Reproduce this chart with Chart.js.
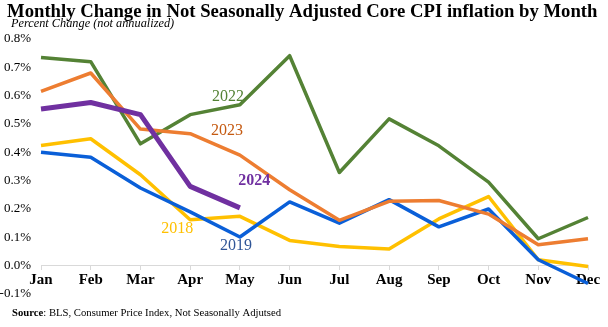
<!DOCTYPE html>
<html>
<head>
<meta charset="utf-8">
<script src="https://cdn.jsdelivr.net/npm/chart.js@4/dist/chart.umd.min.js"></script>
<style>
  html, body { margin: 0; padding: 0; background: #fff; }
  #wrap { width: 608px; height: 327px; position: relative; }
</style>
</head>
<body>
<div id="wrap"><canvas id="cpiChart"></canvas></div>
<script>
// Datos (variación mensual, %)
const months = ['Jan', 'Feb', 'Mar', 'Apr', 'May', 'Jun', 'Jul', 'Aug', 'Sep', 'Oct', 'Nov', 'Dec'];
const y2018 = [0.424, 0.448, 0.321, 0.162, 0.174, 0.089, 0.068, 0.059, 0.165, 0.244, 0.021, -0.003];
const y2019 = [0.400, 0.383, 0.274, 0.190, 0.101, 0.225, 0.150, 0.233, 0.137, 0.200, 0.021, -0.063];
const y2022 = [0.735, 0.720, 0.430, 0.533, 0.568, 0.741, 0.329, 0.518, 0.423, 0.295, 0.095, 0.170];
const y2023 = [0.615, 0.680, 0.482, 0.466, 0.390, 0.268, 0.160, 0.227, 0.230, 0.182, 0.074, 0.095];
const y2024 = [0.553, 0.576, 0.533, 0.280, 0.204];
const yTicks = [-0.1, 0.0, 0.1, 0.2, 0.3, 0.4, 0.5, 0.6, 0.7, 0.8];

const serif = '"Liberation Serif", "Times New Roman", serif';

// Etiquetas de cada año dentro del gráfico (posición en unidades de datos)
const yearLabels = [
  { text: '2022', x: 3.76, y: 0.596, color: '#548235', bold: false },
  { text: '2023', x: 3.74, y: 0.476, color: '#C55A11', bold: false },
  { text: '2024', x: 4.29, y: 0.300, color: '#7030A0', bold: true },
  { text: '2018', x: 2.74, y: 0.130, color: '#FFC000', bold: false },
  { text: '2019', x: 3.92, y: 0.070, color: '#2F5597', bold: false },
];

const textPlugin = {
  id: 'textPlugin',
  afterDraw(chart) {
    const c = chart.ctx;
    const xs = chart.scales.x, ys = chart.scales.y;
    c.save();
    c.fillStyle = '#000';
    c.textBaseline = 'alphabetic';
    c.textAlign = 'left';
    c.font = 'bold 18.7px ' + serif;
    c.fillText('Monthly Change in Not Seasonally Adjusted Core CPI inflation by Month', 7, 17);
    c.font = 'italic 12.3px ' + serif;
    c.fillText('Percent Change (not annualized)', 11, 27);

    // Fuente
    c.font = 'bold 10.7px ' + serif;
    c.fillText('Source', 12, 316);
    let w = c.measureText('Source').width;
    c.font = '10.7px ' + serif;
    c.fillText(': BLS, Consumer Price Index, Not Seasonally Adjutsed', 12 + w, 316);

    c.textAlign = 'center';
    c.textBaseline = 'middle';
    yearLabels.forEach(l => {
      c.font = (l.bold ? 'bold ' : '') + '16px ' + serif;
      c.fillStyle = l.color;
      c.fillText(l.text, xs.getPixelForValue(l.x), ys.getPixelForValue(l.y));
    });
    c.restore();
  }
};

const ctx = document.getElementById('cpiChart').getContext('2d');

const data = {
  labels: months,
  datasets: [
    { label: '2024', data: y2024, borderColor: '#7030A0', borderWidth: 5 },
    { label: '2023', data: y2023, borderColor: '#ED7D31', borderWidth: 3.5 },
    { label: '2022', data: y2022, borderColor: '#548235', borderWidth: 3.5 },
    { label: '2019', data: y2019, borderColor: '#0A5FD8', borderWidth: 3.5 },
    { label: '2018', data: y2018, borderColor: '#FFC000', borderWidth: 3.5 },
  ],
};

const options = {
  responsive: true,
  maintainAspectRatio: false,
  animation: false,
  layout: { padding: { top: 39, bottom: 33, right: 20, left: 0 } },
  elements: {
    point: { radius: 0 },
    line: { tension: 0, borderJoinStyle: 'round', fill: false },
  },
  plugins: {
    legend: { display: false },
    tooltip: { enabled: false },
  },
  scales: {
    x: {
      position: { y: 0 },
      offset: false,
      grid: { display: true, drawOnChartArea: false, tickLength: 4, color: '#d9d9d9' },
      border: { display: true, color: '#d9d9d9', width: 1 },
      ticks: { color: '#000', font: { family: serif, size: 15, weight: 'bold' }, padding: 1, maxRotation: 0, autoSkip: false },
    },
    y: {
      min: -0.1,
      max: 0.8,
      grid: { display: false, drawTicks: false },
      border: { display: false },
      afterFit(scale) { scale.width = 41; },
      afterBuildTicks(scale) { scale.ticks = yTicks.map(v => ({ value: v })); },
      ticks: {
        color: '#000',
        padding: 10,
        font: { family: serif, size: 13 },
        callback: v => v.toFixed(1) + '%',
      },
    },
  },
};

new Chart(ctx, { type: 'line', data: data, options: options, plugins: [textPlugin] });
</script>
</body>
</html>
